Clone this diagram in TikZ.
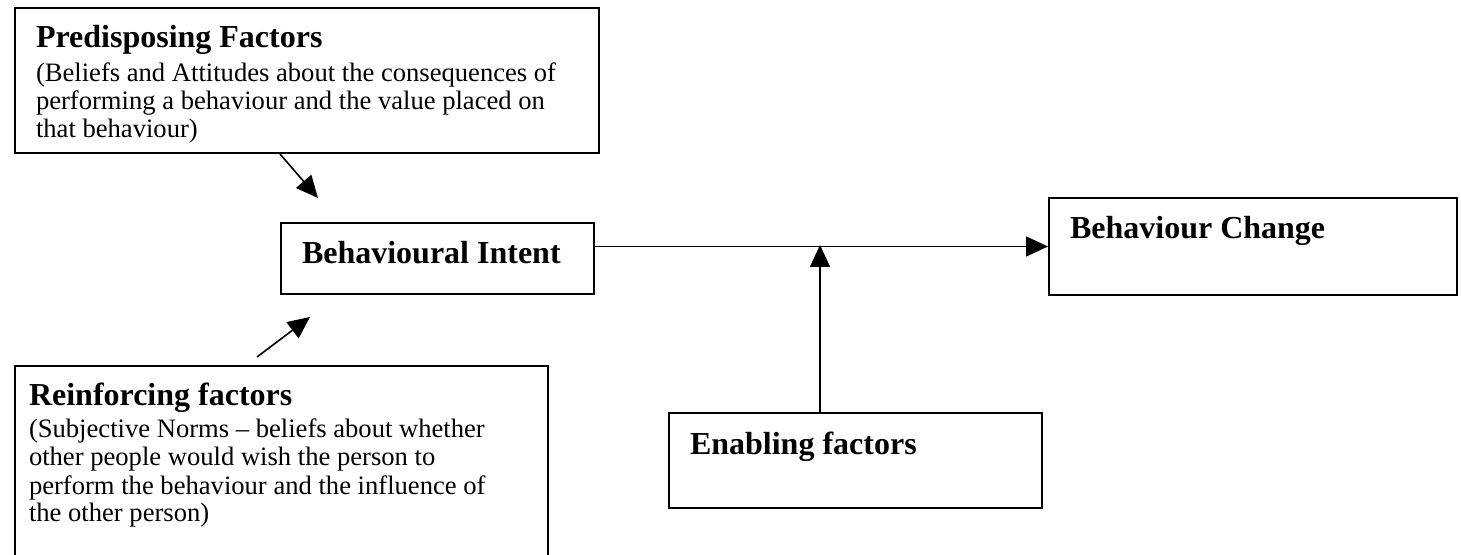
\documentclass[tikz,border=0pt]{standalone}
\usepackage{fontspec}
\setmainfont{Liberation Serif}
\usetikzlibrary{arrows.meta}
\newcommand{\heading}[1]{{\fontsize{16}{17}\selectfont\bfseries #1}}
\tikzset{
  factor/.style={rectangle, draw, line width=1pt, anchor=north west, inner sep=0pt, inner xsep=10.5pt,
                 align=flush left, font=\fontsize{13.3}{14}\selectfont},
  flow/.style={line width=0.8pt, -{Triangle[length=11pt,width=10pt]}}
}

\begin{document}
\begin{tikzpicture}[x=0.5pt, y=-0.5pt]
    \useasboundingbox (0,0) rectangle (1461,555);
    \clip (0,0) rectangle (1461,555);
    \node (pred)     at (14,7)     [factor, text width=271pt, text height=20pt, text depth=52.5pt]
        {\heading{Predisposing Factors}\\[3pt]
         (Beliefs and Attitudes about the consequences of\\
         performing a behaviour and the value placed on\\
         that behaviour)};
    \node (intent)   at (280,222)  [factor, text width=135.5pt, text height=20.5pt, text depth=15pt]
        {\heading{Behavioural Intent}};
    \node (reinf)    at (14,365)   [factor, inner xsep=7pt, text width=252.5pt, text height=20pt, text depth=120pt]
        {\heading{Reinforcing factors}\\[2pt]
         (Subjective Norms – beliefs about whether\\
         other people would wish the person to\\
         perform the behaviour and the influence of\\
         the other person)};
    \node (change)   at (1048,197) [factor, text width=183pt, text height=20.5pt, text depth=28pt]
        {\heading{Behaviour Change}};
    \node (enabling) at (668,412)  [factor, text width=165.5pt, text height=20.5pt, text depth=27pt]
        {\heading{Enabling factors}};
    \coordinate (predtip)   at (318,198);
    \coordinate (reinftail) at (257,357);
    \coordinate (reinftip)  at (310,317);
    \coordinate (meet)      at (820,245);
    \draw[flow] ([xshift=133pt]pred.south west) -- (predtip);
    \draw[flow] (reinftail) -- (reinftip);
    \draw[flow] (intent.east |- change.west) -- (change.west);
    \draw[flow] (enabling.north -| meet) -- (meet);
\end{tikzpicture}
\end{document}
